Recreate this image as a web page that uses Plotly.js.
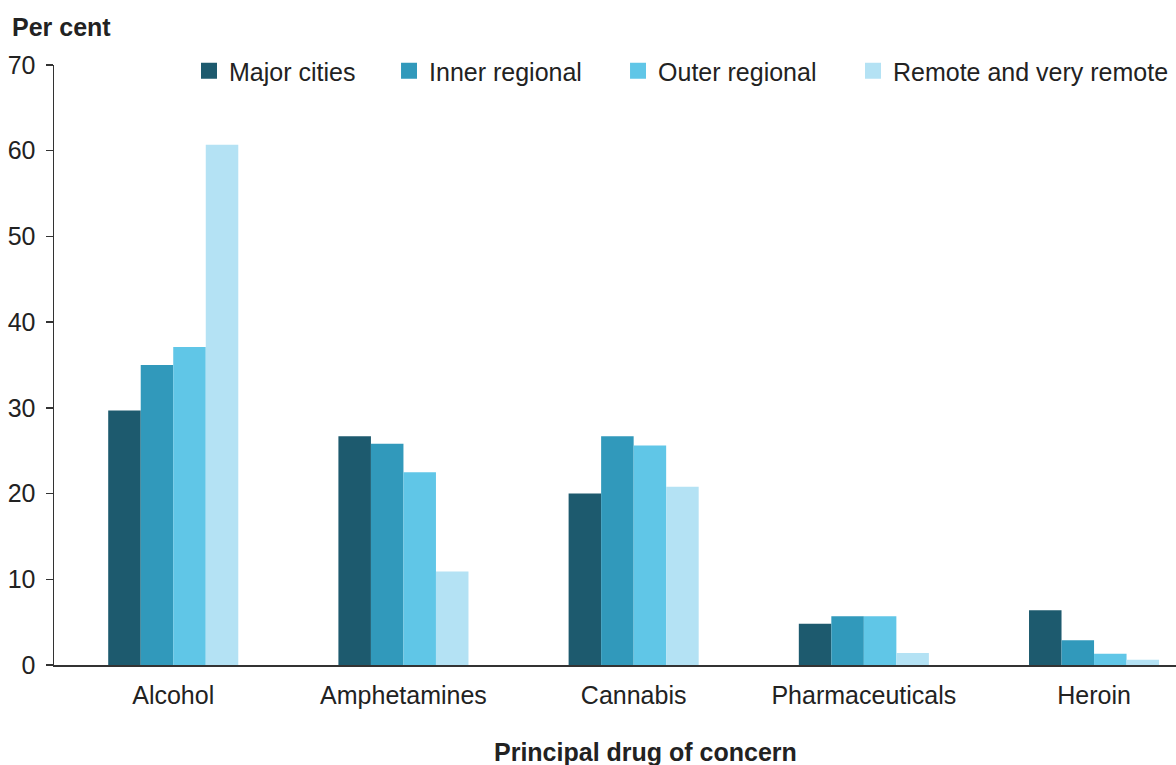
<!DOCTYPE html>
<html>
<head>
<meta charset="utf-8">
<script src="https://cdn.plot.ly/plotly-3.0.1.min.js"></script>
<style>html,body{margin:0;padding:0;background:#fff;}#chart{width:1176px;height:765px;}</style>
</head>
<body>
<div id="chart"></div>
<script>
const categories = ["Alcohol", "Amphetamines", "Cannabis", "Pharmaceuticals", "Heroin"];
const seriesNames = ["Major cities", "Inner regional", "Outer regional", "Remote and very remote"];
const majorCities = [29.7, 26.7, 20.0, 4.8, 6.4];
const innerRegional = [35.0, 25.8, 26.7, 5.7, 2.9];
const outerRegional = [37.1, 22.5, 25.6, 5.7, 1.3];
const remoteVeryRemote = [60.7, 10.9, 20.8, 1.4, 0.6];
const yTicks = [0, 10, 20, 30, 40, 50, 60, 70];

const colors = ["#1d5a6e", "#3199bb", "#60c6e7", "#b4e2f4"];
const values = [majorCities, innerRegional, outerRegional, remoteVeryRemote];
const legendIds = ["legend", "legend2", "legend3", "legend4"];
const legendX = [0.1203, 0.2986, 0.5027, 0.7121];
const FONT = '"Liberation Sans", Arial, sans-serif';

const traces = [];
values.forEach((v, i) => {
  traces.push({
    type: "bar", x: categories, y: v, name: seriesNames[i],
    marker: {color: colors[i], line: {width: 0}},
    showlegend: false, hoverinfo: "x+y+name"
  });
});
values.forEach((v, i) => {
  traces.push({
    type: "scatter", mode: "markers", x: [null], y: [null], name: seriesNames[i],
    marker: {symbol: "square", size: 22, color: colors[i]},
    legend: legendIds[i], showlegend: true, hoverinfo: "skip"
  });
});

const layout = {
  width: 1176, height: 765,
  margin: {l: 54, r: 0, t: 65, b: 100, autoexpand: false},
  paper_bgcolor: "#fff", plot_bgcolor: "#fff",
  font: {family: FONT, size: 25, color: "#222"},
  barmode: "group", bargap: 0.435, bargroupgap: 0,
  xaxis: {
    type: "category", range: [-0.518, 4.356],
    showline: true, linecolor: "#333", linewidth: 1.5,
    ticks: "", showgrid: false, zeroline: false,
    tickfont: {family: FONT, size: 25, color: "#222"},
    ticklabelstandoff: 7, fixedrange: true
  },
  yaxis: {
    range: [0, 70], tickvals: yTicks, ticktext: yTicks.map(String),
    showline: true, linecolor: "#333", linewidth: 1.5,
    ticks: "outside", ticklen: 7, tickwidth: 1.5, tickcolor: "#333",
    showgrid: false, zeroline: false,
    tickfont: {family: FONT, size: 25, color: "#222"},
    ticklabelstandoff: 5, fixedrange: true
  },
  annotations: [
    {text: "<b>Per cent</b>", xref: "paper", yref: "paper", x: -0.0392, y: 1.0633,
     xanchor: "left", yanchor: "middle", showarrow: false,
     font: {family: FONT, size: 25, color: "#222"}},
    {text: "<b>Principal drug of concern</b>", xref: "paper", yref: "paper", x: 0.5276, y: -0.145,
     xanchor: "center", yanchor: "middle", showarrow: false,
     font: {family: FONT, size: 25, color: "#222"}}
  ]
};
legendIds.forEach((id, i) => {
  layout[id] = {
    x: legendX[i], xanchor: "left", y: 0.99, yanchor: "middle",
    orientation: "h", bgcolor: "rgba(0,0,0,0)", borderwidth: 0,
    font: {family: FONT, size: 25, color: "#222"}
  };
});

Plotly.newPlot("chart", traces, layout, {displayModeBar: false, staticPlot: true});
</script>
</body>
</html>
